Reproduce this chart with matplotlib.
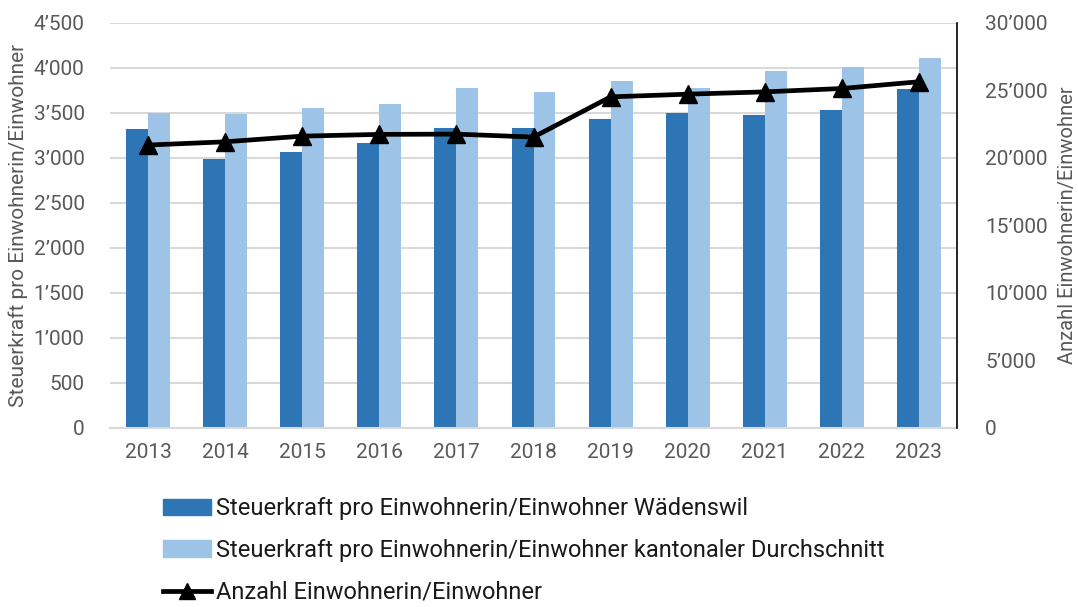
import matplotlib
matplotlib.use("Agg")
import matplotlib.pyplot as plt
from matplotlib.ticker import FuncFormatter, MultipleLocator
from matplotlib.patches import Patch
from matplotlib.lines import Line2D
import numpy as np

plt.rcParams['font.family'] = ['Roboto', 'DejaVu Sans']

years = ['2013', '2014', '2015', '2016', '2017', '2018', '2019', '2020', '2021', '2022', '2023']
steuerkraft_waedenswil = [3315, 2985, 3058, 3164, 3328, 3331, 3424, 3494, 3476, 3528, 3761]
steuerkraft_kanton = [3498, 3480, 3547, 3598, 3772, 3724, 3847, 3776, 3958, 4002, 4102]
einwohner = [20930, 21170, 21590, 21720, 21740, 21520, 24500, 24700, 24870, 25120, 25620]

dark = '#2E75B6'
light = '#9DC3E6'
grey = '#595959'

def swiss(v, pos):
    return f"{int(v):,}".replace(',', '\u2019')

fig = plt.figure(figsize=(10.78, 6.07), dpi=100)
ax = fig.add_axes([0.1016, 0.2957, 0.7866, 0.667])
x = np.arange(len(years))
w = 0.285
ax.bar(x - w / 2, steuerkraft_waedenswil, width=w, color=dark, zorder=2)
ax.bar(x + w / 2, steuerkraft_kanton, width=w, color=light, zorder=2)
ax.set_xlim(-0.5, len(years) - 0.5)
ax.set_ylim(0, 4500)
ax.yaxis.set_major_locator(MultipleLocator(500))
ax.yaxis.set_major_formatter(FuncFormatter(swiss))
ax.set_xticks(x)
ax.set_xticklabels(years)
ax.grid(axis='y', color='#d9d9d9', linewidth=1.5, zorder=0)
ax.set_axisbelow(True)
for s in ['top', 'left', 'right']:
    ax.spines[s].set_visible(False)
ax.spines['bottom'].set_color('#d9d9d9')
ax.spines['bottom'].set_linewidth(1.5)
ax.tick_params(length=0, labelsize=15, colors=grey, pad=11)
ax.tick_params(axis='y', pad=18)
ax.set_ylabel('Steuerkraft pro Einwohnerin/Einwohner', fontsize=15, color=grey, labelpad=4)

ax2 = ax.twinx()
ax2.plot(x, einwohner, color='black', linewidth=3.4, marker='^', markersize=13, zorder=3)
ax2.set_ylim(0, 30000)
ax2.yaxis.set_major_locator(MultipleLocator(5000))
ax2.yaxis.set_major_formatter(FuncFormatter(swiss))
for s in ['top', 'left', 'bottom']:
    ax2.spines[s].set_visible(False)
ax2.spines['right'].set_color('black')
ax2.spines['right'].set_linewidth(1.2)
ax2.tick_params(length=0, labelsize=15, colors=grey, pad=20)
ax2.set_ylabel('Anzahl Einwohnerin/Einwohner', fontsize=14.5, color=grey, labelpad=7)

handles = [
    Patch(color=dark),
    Patch(color=light),
    Line2D([], [], color='black', linewidth=3.4, marker='^', markersize=11),
]
labels = [
    'Steuerkraft pro Einwohnerin/Einwohner Wädenswil',
    'Steuerkraft pro Einwohnerin/Einwohner kantonaler Durchschnitt',
    'Anzahl Einwohnerin/Einwohner',
]
fig.legend(handles, labels, loc='upper left', bbox_to_anchor=(0.151, 0.181),
           frameon=False, fontsize=17, handlelength=2.05, handleheight=0.7,
           handletextpad=0.2, labelspacing=0.8, borderaxespad=0, borderpad=0,
           labelcolor='#1a1a1a')

fig.savefig('out.png', dpi=100)
